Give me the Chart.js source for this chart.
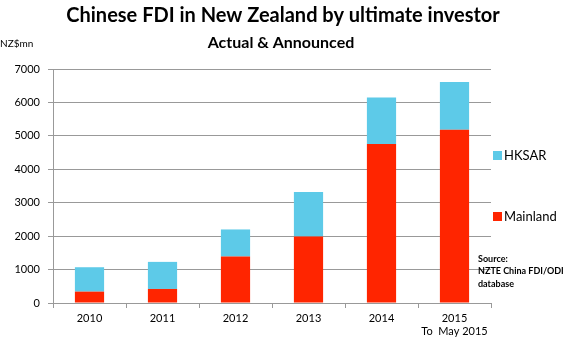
<!DOCTYPE html>
<html>
<head>
<meta charset="utf-8">
<script src="https://cdn.jsdelivr.net/npm/chart.js@4"></script>
<style>
  html, body { margin: 0; padding: 0; background: #fff; }
  #wrap { width: 570px; height: 347px; }
</style>
</head>
<body>
<div id="wrap"><canvas id="fdiChart" width="570" height="347"></canvas></div>
<script>
const years = ['2010', '2011', '2012', '2013', '2014', ['2015', 'To  May 2015']];
const mainland = [340, 420, 1390, 1990, 4760, 5180];
const hksar = [730, 810, 810, 1330, 1390, 1430];
const yTicks = [0, 1000, 2000, 3000, 4000, 5000, 6000, 7000];
const sourceLines = ['Source:', 'NZTE China FDI/ODI', 'database'];

const FONT = 'Lato, "Open Sans", sans-serif';

// titles, unit label, legend and source note drawn on top of the chart
const extras = {
    id: 'extras',
    afterDraw(chart) {
        const ctx = chart.ctx;
        ctx.save();
        ctx.fillStyle = '#000';
        ctx.textBaseline = 'middle';
        ctx.textAlign = 'center';
        ctx.font = 'bold 20px ' + FONT;
        ctx.fillText('Chinese FDI in New Zealand by ultimate investor', 283, 16);
        ctx.font = 'bold 16px ' + FONT;
        ctx.fillText('Actual & Announced', 281, 43);

        ctx.textAlign = 'left';
        ctx.font = '10px ' + FONT;
        ctx.fillText('NZ$mn', 0, 44);

        // legend, HKSAR above Mainland
        const ds = chart.data.datasets;
        const items = [ds[1], ds[0]];
        const ys = [155, 216];
        ctx.font = '13px ' + FONT;
        items.forEach((d, i) => {
            ctx.fillStyle = d.backgroundColor;
            ctx.fillRect(493, ys[i] - 4, 9, 9);
            ctx.fillStyle = '#000';
            ctx.fillText(d.label, 504, ys[i] + 1);
        });

        ctx.font = 'bold 9px ' + FONT;
        sourceLines.forEach((t, i) => {
            ctx.fillText(t, 478, 259 + i * 12.5);
        });
        ctx.restore();
    }
};

new Chart(document.getElementById('fdiChart'), {
    type: 'bar',
    data: {
        labels: years,
        datasets: [{
            label: 'Mainland',
            data: mainland,
            backgroundColor: '#ff2500',
            categoryPercentage: 0.4,
            barPercentage: 1.0
        }, {
            label: 'HKSAR',
            data: hksar,
            backgroundColor: '#5dcae8',
            categoryPercentage: 0.4,
            barPercentage: 1.0
        }]
    },
    options: {
        responsive: false,
        animation: false,
        layout: { padding: { top: 69, right: 79, left: 0, bottom: 0 } },
        plugins: {
            legend: { display: false },
            title: { display: false },
            tooltip: { enabled: false }
        },
        scales: {
            x: {
                stacked: true,
                afterFit(scale) { scale.height = 44; },
                grid: {
                    offset: true,
                    drawOnChartArea: false,
                    drawTicks: true,
                    tickLength: 5,
                    color: '#999'
                },
                border: { color: '#999' },
                ticks: {
                    color: '#000',
                    padding: 4,
                    font: { family: FONT, size: 11 }
                }
            },
            y: {
                stacked: true,
                min: 0,
                max: 7000,
                afterFit(scale) { scale.width = 53; },
                afterBuildTicks(scale) {
                    scale.ticks = yTicks.map(v => ({ value: v }));
                },
                grid: {
                    color: '#999',
                    tickLength: 5
                },
                border: { color: '#999' },
                ticks: {
                    color: '#000',
                    padding: 8,
                    font: { family: FONT, size: 11 },
                    callback: v => String(v)
                }
            }
        }
    },
    plugins: [extras]
});
</script>
</body>
</html>
